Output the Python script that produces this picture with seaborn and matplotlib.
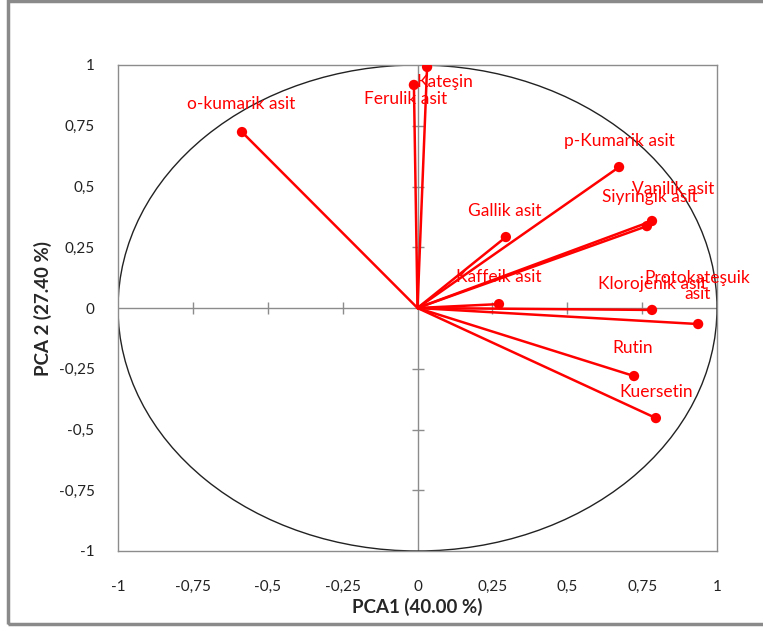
import matplotlib
matplotlib.use("Agg")
import matplotlib.pyplot as plt
from matplotlib.patches import Circle, Rectangle
import numpy as np
import pandas as pd
import seaborn as sns

# PCA loadings
variables = [
    "o-kumarik asit", "Kateşin", "Ferulik asit", "p-Kumarik asit",
    "Vanilik asit", "Siyringik asit", "Gallik asit", "Kaffeik asit",
    "Klorojenik asit", "Protokateşuik\nasit", "Rutin", "Kuersetin",
]
pca1 = [-0.586, 0.032, -0.012, 0.673, 0.783, 0.766, 0.295, 0.272, 0.783, 0.937, 0.723, 0.796]
pca2 = [0.724, 0.992, 0.918, 0.580, 0.358, 0.337, 0.292, 0.016, -0.008, -0.066, -0.280, -0.453]

tick_values = [-1, -0.75, -0.5, -0.25, 0, 0.25, 0.5, 0.75, 1]
tick_labels = ["-1", "-0,75", "-0,5", "-0,25", "0", "0,25", "0,5", "0,75", "1"]

# label offsets (pixels) from each point
label_offsets = [(-1, 28), (18, -15), (-8, -14), (0, 26), (21, 32), (3, 29),
                 (-1, 26), (0, 27), (0, 26), (-1, 38), (-1, 28), (0, 26)]

df = pd.DataFrame({"var": variables, "pca1": pca1, "pca2": pca2})

sns.set_style("white")
plt.rcParams["font.family"] = ["Lato", "DejaVu Sans"]

fig = plt.figure(figsize=(7.63, 6.27), dpi=100)
ax = fig.add_axes([118 / 763, 1 - 551 / 627, (717 - 118) / 763, (551 - 65) / 627])

grey = "#8c8c8c"
red = "#ff0000"

# zero axes with crossing tick marks
ax.axhline(0, color=grey, lw=1, zorder=1)
ax.axvline(0, color=grey, lw=1, zorder=1)
inner = [t for t in tick_values if t not in (-1, 0, 1)]
ax.plot(inner, [0] * len(inner), ls="none", marker="|", ms=9, mew=1, color=grey, zorder=1)
ax.plot([0] * len(inner), inner, ls="none", marker="_", ms=9, mew=1, color=grey, zorder=1)

# unit circle
ax.add_patch(Circle((0, 0), 1, fill=False, ec="#222222", lw=1, zorder=2))

# vectors from origin
for x, y in zip(df["pca1"], df["pca2"]):
    ax.plot([0, x], [0, y], color=red, lw=1.8, zorder=3, solid_capstyle="round")
sns.scatterplot(data=df, x="pca1", y="pca2", color=red, s=55, edgecolor="none", zorder=4, ax=ax)

for name, x, y, (dx, dy) in zip(df["var"], df["pca1"], df["pca2"], label_offsets):
    ax.annotate(name, (x, y), xytext=(dx, dy), textcoords="offset pixels",
                ha="center", va="center", color=red, fontsize=12.5,
                multialignment="center", linespacing=0.95, zorder=5)

ax.set_xlim(-1, 1)
ax.set_ylim(-1, 1)
ax.set_xticks(tick_values)
ax.set_xticklabels(tick_labels)
ax.set_yticks(tick_values)
ax.set_yticklabels(tick_labels)
ax.tick_params(length=0, labelsize=11, labelcolor="#222222")
ax.tick_params(axis="x", pad=21)
ax.tick_params(axis="y", pad=17)
for s in ax.spines.values():
    s.set_color(grey)
    s.set_linewidth(1)

ax.set_xlabel("PCA1 (40.00 %)", fontsize=13.5, fontweight="bold", labelpad=3)
ax.set_ylabel("PCA 2 (27.40 %)", fontsize=13.5, fontweight="bold", labelpad=5)
ax.set_facecolor("white")

# outer figure border
fig.patches.append(Rectangle((8 / 763, 3 / 627), 1.0, 1 - 4 / 627, transform=fig.transFigure,
                             fill=False, ec="#8a8a8a", lw=2.5))

fig.savefig("out.png", dpi=100)
